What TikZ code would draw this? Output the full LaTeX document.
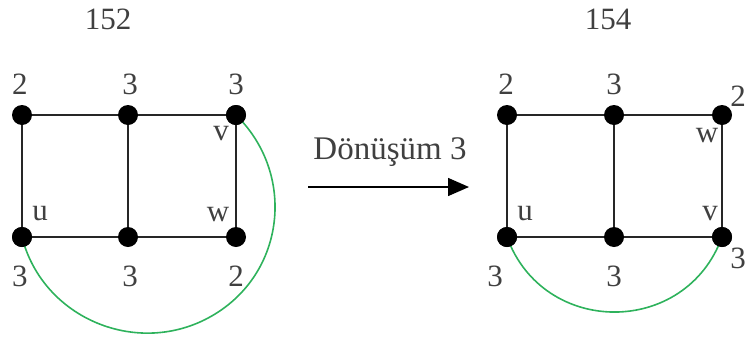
\documentclass[tikz,border=0pt]{standalone}
\usepackage{fontspec}
\setmainfont{Liberation Serif}
\usetikzlibrary{arrows.meta}
\definecolor{txt}{RGB}{64,64,64}
\definecolor{edgegreen}{RGB}{46,178,92}
\begin{document}
\begin{tikzpicture}[x=1pt,y=-1pt,
  vtx/.style={circle,fill=black,inner sep=0pt,minimum size=20pt},
  lbl/.style={text=txt,font=\fontsize{31}{33}\selectfont,inner sep=0pt},
  gedge/.style={line width=2pt,draw=black!85},
  arcline/.style={draw=edgegreen,line width=1.6pt}]
\useasboundingbox (0,0) rectangle (747,338);
% left graph
\node[vtx] (a1) at (22,115) {};
\node[vtx] (a2) at (128,115) {};
\node[vtx] (a3) at (236,115) {};
\node[vtx] (a4) at (22,237) {};
\node[vtx] (a5) at (128,237) {};
\node[vtx] (a6) at (236,237) {};
\draw[gedge] (a1) -- (a2) -- (a3) -- (a6) -- (a5) -- (a4) -- (a1);
\draw[gedge] (a2) -- (a5);
\coordinate (am) at (211.9,315.9);
\draw[arcline] (a3.center) .. controls (296.5,174.3) and (285.3,273.6) .. (am)
  .. controls (138.5,358.2) and (42.9,319.1) .. (a4.center);
\node[vtx] at (a3) {};
\node[vtx] at (a4) {};
\node[lbl] (t1) at (108,19) {152};
\node[lbl] at (20,84) {2};
\node[lbl] at (130,84) {3};
\node[lbl] at (236,84) {3};
\node[lbl] at (20,276) {3};
\node[lbl] at (130,276) {3};
\node[lbl] at (236,276) {2};
\node[lbl] at (221,134) {v};
\node[lbl] at (218,215) {w};
\node[lbl] at (40,214) {u};
% arrow
\coordinate (s) at (308,187);
\coordinate (e) at (469,187);
\draw[line width=1.5pt,-{Triangle[length=21pt,width=18pt]}] (s) -- (e);
\node[lbl,font=\fontsize{33}{35}\selectfont] (t) at (390,152) {Dönüşüm 3};
% right graph
\node[vtx] (b1) at (507,115) {};
\node[vtx] (b2) at (614,115) {};
\node[vtx] (b3) at (722,115) {};
\node[vtx] (b4) at (507,237) {};
\node[vtx] (b5) at (614,237) {};
\node[vtx] (b6) at (722,237) {};
\draw[gedge] (b1) -- (b2) -- (b3) -- (b6) -- (b5) -- (b4) -- (b1);
\draw[gedge] (b2) -- (b5);
\draw[arcline] (b4.center) to[out=-70,in=-110,looseness=1.27] (b6.center);
\node[vtx] at (b4) {};
\node[vtx] at (b6) {};
\node[lbl] (t2) at (608,19) {154};
\node[lbl] at (506,84) {2};
\node[lbl] at (614,84) {3};
\node[lbl] at (738,96) {2};
\node[lbl] at (707,136) {w};
\node[lbl] at (525,214) {u};
\node[lbl] at (710,214) {v};
\node[lbl] at (495,276) {3};
\node[lbl] at (614,276) {3};
\node[lbl] at (738,258) {3};
\end{tikzpicture}
\end{document}
